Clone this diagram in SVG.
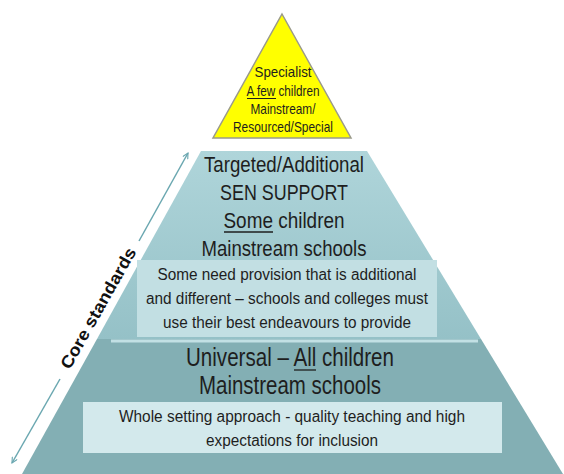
<svg xmlns="http://www.w3.org/2000/svg" width="564" height="474" viewBox="0 0 564 474">
<defs>
<linearGradient id="gMid" x1="0" y1="0" x2="0" y2="1">
<stop offset="0" stop-color="#afd5da"/>
<stop offset="1" stop-color="#95c1c7"/>
</linearGradient>
<marker id="ah" viewBox="0 0 10 10" refX="9" refY="5" markerWidth="7" markerHeight="7" orient="auto-start-reverse" markerUnits="userSpaceOnUse">
<path d="M1,1 L9,5 L1,9" fill="none" stroke="#6aa7b0" stroke-width="1.6"/>
</marker>
<style>
.t{font-family:"Liberation Sans",Arial,sans-serif;fill:#1e1e1e;text-anchor:middle}
.y{font-size:15px}
.m{font-size:22px}
.b{font-size:16px}
.u{font-size:25px}
.cs{font-family:"Liberation Sans",Arial,sans-serif;font-weight:bold;font-size:17px;fill:#111;text-anchor:middle}
.ul{stroke:#1e1e1e;stroke-width:1.3}
.arr{stroke:#6aa7b0;stroke-width:1.5;fill:none}
</style>
</defs>
<rect width="564" height="474" fill="#ffffff"/>

<g id="universal">
<polygon points="97,339 481,339 563,474 22,474" fill="#83afb4"/>
<rect x="111" y="339.5" width="367" height="3" fill="#c2e0e4"/>
<text class="t u" x="290" y="366" textLength="208" lengthAdjust="spacingAndGlyphs">Universal – All children</text>
<line class="ul" x1="294" y1="370" x2="316" y2="370"/>
<text class="t u" x="290" y="394" textLength="182" lengthAdjust="spacingAndGlyphs">Mainstream schools</text>
<rect x="83" y="402" width="419" height="51" fill="#d3e9ec"/>
<text class="t b" x="292" y="422" textLength="346" lengthAdjust="spacingAndGlyphs">Whole setting approach - quality teaching and high</text>
<text class="t b" x="292" y="446" textLength="172" lengthAdjust="spacingAndGlyphs">expectations for inclusion</text>
</g>

<g id="targeted">
<polygon points="201,151 367,151 481,339 97,339" fill="url(#gMid)"/>
<text class="t m" x="284" y="172" textLength="160" lengthAdjust="spacingAndGlyphs">Targeted/Additional</text>
<text class="t m" x="284" y="200" textLength="128" lengthAdjust="spacingAndGlyphs">SEN SUPPORT</text>
<text class="t m" x="284" y="228" textLength="121" lengthAdjust="spacingAndGlyphs">Some children</text>
<line class="ul" x1="224" y1="232" x2="273" y2="232"/>
<text class="t m" x="284" y="256" textLength="165" lengthAdjust="spacingAndGlyphs">Mainstream schools</text>
<rect x="137" y="260" width="300" height="77" fill="#c2dfe3"/>
<text class="t b" x="287" y="280" textLength="259" lengthAdjust="spacingAndGlyphs">Some need provision that is additional</text>
<text class="t b" x="287" y="304" textLength="282" lengthAdjust="spacingAndGlyphs">and different – schools and colleges must</text>
<text class="t b" x="287" y="328" textLength="248" lengthAdjust="spacingAndGlyphs">use their best endeavours to provide</text>
</g>

<g id="specialist">
<polygon points="282,14 351,138 213,138" fill="#ffff00" stroke="#9a9a8a" stroke-width="1.5"/>
<text class="t y" x="283" y="77" textLength="57" lengthAdjust="spacingAndGlyphs">Specialist</text>
<text class="t y" x="283" y="96" textLength="73" lengthAdjust="spacingAndGlyphs">A few children</text>
<line x1="247" y1="98.5" x2="276" y2="98.5" stroke="#1e1e1e" stroke-width="1"/>
<text class="t y" x="283" y="114" textLength="65" lengthAdjust="spacingAndGlyphs">Mainstream/</text>
<text class="t y" x="283" y="132" textLength="100" lengthAdjust="spacingAndGlyphs">Resourced/Special</text>
</g>

<g id="connectors">
<line class="arr" x1="60" y1="379" x2="12" y2="463" marker-end="url(#ah)"/>
<line class="arr" x1="139" y1="241" x2="188" y2="153" marker-end="url(#ah)"/>
</g>

<g id="core-standards">
<text class="cs" transform="translate(98,308) rotate(-60.5)" x="0" y="6" textLength="136" lengthAdjust="spacingAndGlyphs">Core standards</text>
</g>
</svg>
